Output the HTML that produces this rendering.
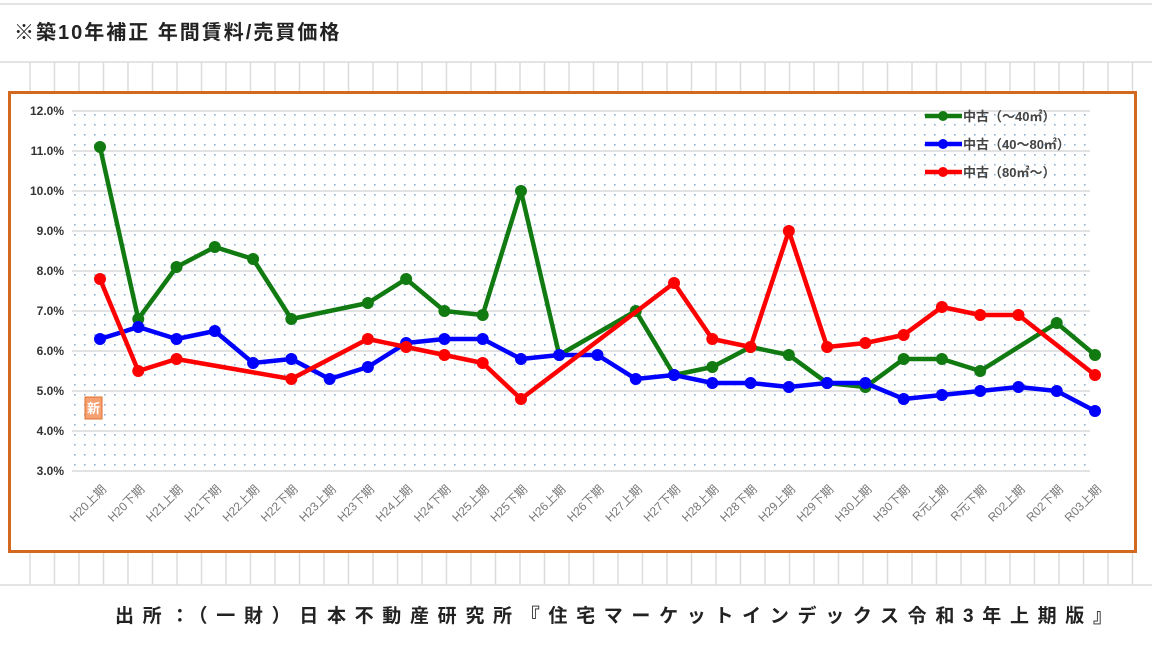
<!DOCTYPE html>
<html><head><meta charset="utf-8"><style>
body{margin:0;width:1152px;height:648px;background:#fff;overflow:hidden;font-family:"Liberation Sans","Noto Sans CJK JP",sans-serif;}
</style></head><body>
<svg id="c" width="1152" height="648" xmlns="http://www.w3.org/2000/svg">
<defs><pattern id="dots" width="10" height="10" patternUnits="userSpaceOnUse"><rect x="4" y="4" width="1.6" height="1.6" fill="#8fb0d8"/></pattern></defs>
<g id="grid" stroke="#dcdcdc" stroke-width="1.5"></g>
<text x="14" y="39" font-size="20" font-weight="bold" fill="#222" letter-spacing="2">※築10年補正 年間賃料/売買価格</text>
<rect x="9.5" y="92.5" width="1126" height="459" fill="#fff" stroke="#d2691e" stroke-width="3"/>
<g id="plot"></g>
<text x="115" y="622" textLength="997" lengthAdjust="spacing" font-size="19" font-weight="bold" fill="#222">出所：（一財）日本不動産研究所『住宅マーケットインデックス令和3年上期版』</text>
</svg>
<script>
const categories=["H20上期","H20下期","H21上期","H21下期","H22上期","H22下期","H23上期","H23下期","H24上期","H24下期","H25上期","H25下期","H26上期","H26下期","H27上期","H27下期","H28上期","H28下期","H29上期","H29下期","H30上期","H30下期","R元上期","R元下期","R02上期","R02下期","R03上期"];
const small=[11.1,6.8,8.1,8.6,8.3,6.8,null,7.2,7.8,7.0,6.9,10.0,5.9,null,7.0,5.4,5.6,6.1,5.9,5.2,5.1,5.8,5.8,5.5,null,6.7,5.9];
const mid=[6.3,6.6,6.3,6.5,5.7,5.8,5.3,5.6,6.2,6.3,6.3,5.8,5.9,5.9,5.3,5.4,5.2,5.2,5.1,5.2,5.2,4.8,4.9,5.0,5.1,5.0,4.5];
const large=[7.8,5.5,5.8,null,null,5.3,null,6.3,6.1,5.9,5.7,4.8,null,null,null,7.7,6.3,6.1,9.0,6.1,6.2,6.4,7.1,6.9,6.9,null,5.4];
const yTicks=[3,4,5,6,7,8,9,10,11,12];
const seriesNames=["中古（～40㎡）","中古（40～80㎡）","中古（80㎡～）"];
const NS="http://www.w3.org/2000/svg";
function mk(t,a,p){const e=document.createElementNS(NS,t);for(const k in a)e.setAttribute(k,a[k]);p.appendChild(e);return e;}
const grid=document.getElementById('grid');
for(let x=30;x<1152;x+=24.5){mk('line',{x1:x,y1:62,x2:x,y2:92},grid);mk('line',{x1:x,y1:553,x2:x,y2:585},grid);}
mk('line',{x1:0,y1:62,x2:1152,y2:62},grid);mk('line',{x1:0,y1:585,x2:1152,y2:585},grid);mk('line',{x1:0,y1:4,x2:1152,y2:4},grid);
const plot=document.getElementById('plot');
const X0=72,X1=1120,Ytop=111,Ybot=471;
function y(v){return Ybot-(v-3)/9*(Ybot-Ytop);}
function x(i){return 100+i*(1095-100)/(categories.length-1);}
const bg=mk('rect',{x:X0,y:Ytop,width:X1-X0-30,height:Ybot-Ytop,fill:'url(#dots)'},plot);


yTicks.forEach(v=>{
 const l=mk('line',{x1:X0,y1:y(v),x2:X1-30,y2:y(v),stroke:'#d8d8d8','stroke-width':1.5},plot);
 
 
 const t=mk('text',{x:64,y:y(v)+4,'text-anchor':'end','font-size':12,'font-weight':'bold',fill:'#333'},plot);
 
 
 t.textContent=v.toFixed(1)+'%';
});
categories.forEach((c,i)=>{
 const t=mk('text',{transform:`translate(${x(i)+7},${490}) rotate(-45)`,'text-anchor':'end','font-size':12,fill:'#777'},plot);
 
 
 t.textContent=c;
});
const nb=mk('g',{},plot);


mk('rect',{x:85,y:397,width:17,height:22,fill:'#f4a070',stroke:'#e07030'},nb);
const nt=mk('text',{x:93.5,y:413,'text-anchor':'middle','font-size':13,'font-weight':'bold',fill:'#fff'},nb);nt.textContent='新';
function draw(data,color,name){
 const g=mk('g',{},plot);
 
 
 const pts=[];data.forEach((v,i)=>{if(v!=null)pts.push([x(i),y(v)]);});
 mk('polyline',{points:pts.map(p=>p.join(',')).join(' '),fill:'none',stroke:color,'stroke-width':4.5,'stroke-linejoin':'round'},g);
 pts.forEach(p=>{const c=mk('circle',{cx:p[0],cy:p[1],r:6,fill:color},g);
  
  });
}
draw(small,'#117a11','series-small');
draw(mid,'#0000ff','series-mid');
draw(large,'#ff0000','series-large');
const colors=['#117a11','#0000ff','#ff0000'];
seriesNames.forEach((n,i)=>{
 const g=mk('g',{},plot);
 
 
 const ly=116+i*28;
 mk('line',{x1:925,y1:ly,x2:962,y2:ly,stroke:colors[i],'stroke-width':4.5},g);
 mk('circle',{cx:943,cy:ly,r:5,fill:colors[i]},g);
 const t=mk('text',{x:963,y:ly+5,'font-size':13,'font-weight':'bold',fill:'#444'},g);t.textContent=n;
});
</script>
</body></html>
